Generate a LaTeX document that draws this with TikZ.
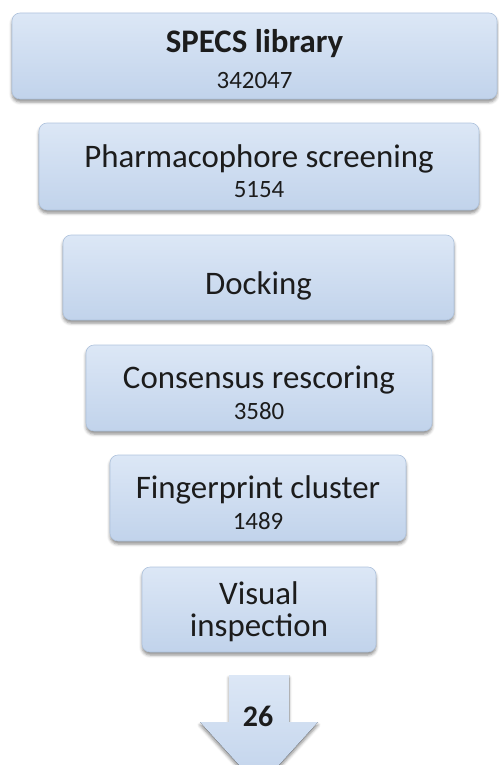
\documentclass[tikz,border=0pt]{standalone}
\usepackage{fontspec}
\setmainfont{Carlito}
\usetikzlibrary{shadows,shadows.blur}
\definecolor{boxtop}{HTML}{DCE7F6}
\definecolor{boxmid}{HTML}{CBDBF0}
\definecolor{boxbot}{HTML}{C1D3EB}
\definecolor{boxline}{HTML}{AFC3DD}
\definecolor{inktext}{HTML}{1C1C1C}
\newcommand{\numfont}{\fontsize{25}{30}\selectfont}
\newcommand{\stagestrut}[1][33bp]{\rule{0pt}{#1}}
\tikzset{
  stagebox/.style={rounded corners=8bp, draw=boxline, line width=0.6bp,
    top color=boxtop, middle color=boxmid, bottom color=boxbot,
    blur shadow={shadow xshift=0bp, shadow yshift=-3bp, shadow blur radius=3bp, shadow opacity=45},
    inner sep=0pt, align=center, text=inktext,
    font=\fontsize{33}{32}\selectfont},
}
\begin{document}
\begin{tikzpicture}[x=1bp,y=-1bp]
	%frame
	\useasboundingbox (0,0) rectangle (499,765);

	%stages
	\node[stagebox, minimum width=485bp, minimum height=86bp] (specs) at (254.5,56)
	  {\stagestrut[30bp]\bfseries SPECS library\\[4bp] \numfont 342047};
	\node[stagebox, minimum width=440bp, minimum height=87bp] (pharm) at (259,166.5)
	  {\stagestrut Pharmacophore screening\\[-2bp] \numfont 5154};
	\node[stagebox, minimum width=391bp, minimum height=85bp, text height=33bp, text depth=0pt] (dock) at (258.5,277.5)
	  {Docking};
	\node[stagebox, minimum width=346bp, minimum height=86bp] (cons) at (259,388)
	  {\stagestrut Consensus rescoring\\[-1bp] \numfont 3580};
	\node[stagebox, minimum width=296bp, minimum height=86bp] (finger) at (258,498)
	  {\stagestrut Fingerprint cluster\\[-1bp] \numfont 1489};
	\node[stagebox, minimum width=234bp, minimum height=85bp] (visual) at (259,609.5)
	  {\stagestrut[28bp]Visual\\ inspection};

	%result arrow
	\coordinate (shaftL) at (229,675);
	\coordinate (shaftR) at (289,675);
	\coordinate (tip) at (259,787);
	\fill[top color=boxtop, middle color=boxmid, bottom color=boxbot,
	  blur shadow={shadow xshift=0bp, shadow yshift=-3bp, shadow blur radius=3bp, shadow opacity=45}]
	  (shaftL) -- (shaftR) -- (289,722) -- (318,722) -- (tip) -- (200,722) -- (229,722) -- cycle;
	\node[text=inktext, font=\fontsize{30}{32}\selectfont\bfseries] (count) at (258,716) {26};
\end{tikzpicture}
\end{document}
